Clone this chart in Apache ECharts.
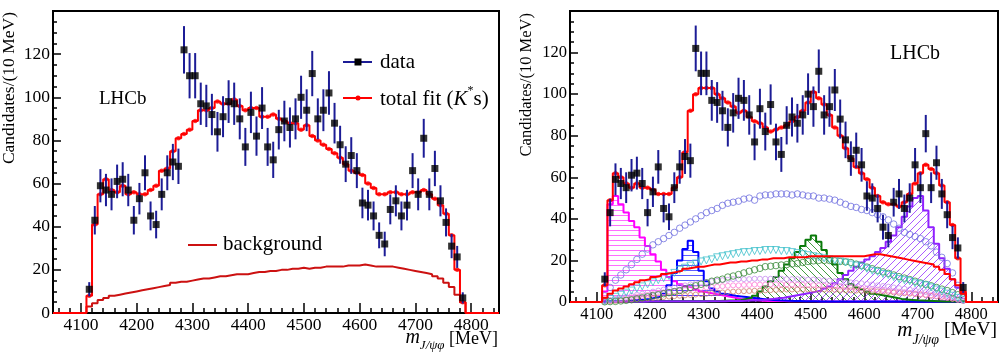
<!DOCTYPE html>
<html><head><meta charset="utf-8">
<script src="https://cdn.jsdelivr.net/npm/echarts@6/dist/echarts.min.js"></script>
<style>html,body{margin:0;padding:0;background:#fff}#c{width:1000px;height:361px}</style>
</head><body><div id="c"></div>
<script>
// ---------- data ----------
const binCenters = [4115,4125,4135,4145,4155,4165,4175,4185,4195,4205,4215,4225,4235,4245,4255,4265,4275,4285,4295,4305,4315,4325,4335,4345,4355,4365,4375,4385,4395,4405,4415,4425,4435,4445,4455,4465,4475,4485,4495,4505,4515,4525,4535,4545,4555,4565,4575,4585,4595,4605,4615,4625,4635,4645,4655,4665,4675,4685,4695,4705,4715,4725,4735,4745,4755,4765,4775,4785];
const binWidth = 10;
const xMajorTicks = [4100,4200,4300,4400,4500,4600,4700,4800];
const dataVals = [11,43,59,57,55,61,62,57,43,53, 65,45,41,55,65,70,68,122,110,110, 97,96,92,84,91,98,97,90,77,93, 82,95,77,71,85,89,86,90,100,94, 111,90,94,102,88,78,69,73,66,51, 50,45,36,32,48,52,45,50,66,55, 81,55,67,52,42,31,26,7];
const dataErr = [3.3,6.6,7.7,7.5,7.4,7.8,7.9,7.5,6.6,7.3, 8.1,6.7,6.4,7.4,8.1,8.4,8.2,11,10.5,10.5, 9.8,9.8,9.6,9.2,9.5,9.9,9.8,9.5,8.8,9.6, 9.1,9.7,8.8,8.4,9.2,9.4,9.3,9.5,10,9.7, 10.5,9.5,9.7,10.1,9.4,8.8,8.3,8.5,8.1,7.1, 7.1,6.7,6,5.7,6.9,7.2,6.7,7.1,8.1,7.4, 9,7.4,8.2,7.2,6.5,5.6,5.1,2.6];
// left panel
const fitLeft = [8,41,55,62,57,56,59,55,56,55, 55,57,59,66,67,75,81,83,85,89, 94,94,95,98,97,97,99,96,94,95, 95,91,91,92,90,89,88,88,85,87, 82,80,78,76,74,72,69,66,65,64, 60,58,55,55,56,56,55,55,56,56, 57,55,53,50,46,36,20,5];
const bgLeft = [3,4.5,6,7,8,8.5,9,9.5,10,10.5, 11,11.5,12,12.5,13,14,14.5,14.5,15,15.5, 16,16,16.5,17,17,17.5,18,18,18,18.5, 19,19,19.5,19.5,20,20,20.5,20.5,21,20.5, 21,21,21.5,21.5,21.5,21.5,22,22,22,22.5, 22,21.5,21.5,21.5,21.5,21,20.5,20,19.5,19, 18.5,18,17,16,14,12,8.5,5];
// right panel
const fitRight = [8,49,62,60,57,55,57,55,55,54, 52,52,52,55,60,72,92,100,103,103, 103,100,98,96,94,91,92,89,87,86, 84,82,83,84,85,87,89,92,96,101, 98,95,90,84,80,74,69,65,62,59, 55,51,48,47,47,46,48,52,57,62, 66,64,62,56,48,37,21,5];
const redRight = [2,4,5.5,6.5,7.5,8.5,9.5,10.5,11,12, 12.5,13.5,14,14.5,15,16,16.5,17,17,17.5, 18,18,18.5,19,19,19.5,19.5,20,20,20.5, 20.5,21,21,21,21.5,21.5,21.5,21.5,22,22, 22,22,22,22,22,22,22,22,22,22.5, 23,23,22.5,22,21.5,21,20.5,20,19.5,19, 18.5,18,17,15.5,13.5,11,8,4];
const magentaHist = [5,47,51,47,43,39,36,31,27,23, 19.5,15.5,12,10,8.5,7.5,7,6,5,4.5, 4,3.5,3,2.5,2,1.5,1.2,1,0.8,0.6, 0.5,0.5,0.5,0.5,0.4,0.4,0.4,0.4,0.4,0.4, 0.3,0.3,0.3,0.3,0.3,0.3,0.3,0.3,0.3,0.3, 0.3,0.3,0.3,0.3,0.3,0.3,0.3,0.3,0.3,0.3, 0.2,0.2,0.2,0.2,0.2,0.2,0.1,0.1];
const blueHist = [0.2,0.3,0.4,0.5,0.6,0.8,1,1.2,1.5,2, 2.5,4,8,14,20,25.5,29.5,24,15,10, 6.5,5,4,3.5,3,2.7,2.4,2.1,1.8,1.5, 1.2,1,0.8,0.7,0.6,0.5,0.5,0.4,0.4,0.4, 0.3,0.3,0.3,0.3,0.3,0.3,0.2,0.2,0.2,0.2, 0.2,0.2,0.2,0.2,0.2,0.2,0.2,0.2,0.1,0.1, 0.1,0.1,0.1,0.1,0.1,0.1,0.1,0.1];
const greenHist = [0.1,0.1,0.1,0.1,0.1,0.1,0.1,0.2,0.2,0.2, 0.2,0.2,0.2,0.3,0.3,0.3,0.3,0.3,0.3,0.4, 0.4,0.5,0.6,0.7,0.8,1,1.5,2,3,5, 7.5,10,12,15,18,21,24,27,30,32, 29,25,21.5,18,14,11,8.5,7,6,5, 4,3.5,3,2.5,2,1.5,1.2,1,0.8,0.7, 0.6,0.5,0.4,0.3,0.3,0.2,0.2,0.1];
const purpleHist = [0.1,0.1,0.1,0.1,0.1,0.1,0.1,0.1,0.2,0.2, 0.2,0.2,0.2,0.2,0.3,0.3,0.3,0.3,0.3,0.4, 0.4,0.4,0.4,0.5,0.5,0.5,0.6,0.7,0.8,1, 1.2,1.5,1.8,2,2.5,3,3.5,4,4.5,5, 5.5,6.5,7.5,9,11,13,15,17,19,20.5, 22,24,26,29,32,36,41,46,50,51, 44,36,28,21,16,11,7,4];
const lavenderCircles = [3,7,10.5,13,15.5,18,20.5,23,25.5,27.5, 29,30.5,32,33.5,35.5,37,38.5,40,41.5,43, 44,45,46.5,47.5,48,48.5,49.5,50,49,51, 51.5,51.5,52,52,52,51.5,52,51.5,51,51, 50,50,49.5,49,48,47,46,45.5,44.5,44, 43,42,41,39.5,37.5,35.5,33.5,32.5,31.5,30.5, 29,27,24,21.5,18.5,14,8,3];
const cyanTriangles = [0.5,1.5,2.5,3.5,4.5,5.5,6.5,7.5,8.5,9.5, 10.5,11.5,12.5,14,15.5,16.5,17.5,18.5,19.5,20, 20.5,21.5,22,22.5,23,23.5,24,24,24.5,24.5, 25,25,25,24.5,24.5,24,23.5,23,22.5,22, 21.5,21,20.5,20,19.5,19,18,17.5,17,16, 15,14.5,13.5,13,12,11,10.5,10,9,8.5, 8,7,6,5,4,3,2,1];
const greenCircles = [0.1,0.2,0.3,0.5,0.8,1.1,1.5,2,2.5,3, 3.5,4,4.5,5,5.5,6.2,7,7.8,8.5,9.2, 10,10.5,11,12,12.5,13.2,14,14.8,15.5,16.2, 17,17.2,17.5,17.8,18,18.3,18.5,19,19.5,19.8, 20,20,20,19.8,19.5,19.3,19,18.2,17.5,16.8, 16,15.2,14.5,13.8,13,12.2,11.5,10.8,10,9.2, 8.5,7.8,7,6.2,5.5,4.5,3.5,2];
const violetCircles = [0.5,1,1.5,2,2.5,3,3.5,4,4.5,5, 5.5,6,6.5,7,7.5,8,8.5,9,9.3,9.6, 10,10.2,10.5,10.7,11,11,11,11,11.2,11.2, 11.2,11.2,11.2,11.2,11,11,11,11,10.8,10.8, 10.6,10.4,10.2,10,9.8,9.6,9.4,9.2,9,8.7, 8.4,8,7.7,7.4,7,6.7,6.4,6,5.6,5.2, 4.8,4.4,4,3.5,3,2.4,1.6,0.8];
const pinkCircles = [0.3,0.6,1,1.4,1.8,2.2,2.6,3,3.4,3.8, 4.2,4.6,5,5.3,5.6,5.9,6.2,6.5,6.8,7, 7.2,7.4,7.6,7.8,8,8,8.2,8.2,8.4,8.4, 8.4,8.5,8.5,8.5,8.5,8.4,8.4,8.3,8.2,8.1, 8,7.9,7.8,7.6,7.4,7.2,7,6.8,6.6,6.4, 6.2,6,5.8,5.5,5.2,5,4.7,4.4,4.1,3.8, 3.5,3.2,2.9,2.5,2.1,1.6,1.1,0.5];
const brownCircles = [0.2,0.4,0.6,0.8,1,1.2,1.4,1.6,1.8,2, 2.2,2.4,2.6,2.8,3,3.2,3.4,3.6,3.8,4, 4.2,4.4,4.6,4.8,5,5.1,5.2,5.3,5.4,5.5, 5.6,5.7,5.8,5.9,6,6,6,6,6,6, 6,6,6,5.9,5.8,5.7,5.6,5.5,5.4,5.3, 5.2,5.1,5,4.8,4.6,4.4,4.2,4,3.8,3.6, 3.3,3,2.7,2.4,2,1.6,1.1,0.5];

// ---------- helpers ----------
const FF = 'Liberation Serif';
const xMin = 4050, xMax = 4850;
const xMinorTicks = [];
for (let v = xMin + 10; v < xMax; v += 20) { if (v % 100 !== 0) xMinorTicks.push(v); }

function pairs(ys) { return binCenters.map((x, i) => [x, ys[i]]); }
function steps(vals, ext) {
  const pts = [];
  const h = binWidth / 2;
  if (ext) pts.push([xMin, 0]);
  pts.push([binCenters[0] - h, 0]);
  binCenters.forEach((c, i) => { pts.push([c - h, vals[i]]); pts.push([c + h, vals[i]]); });
  pts.push([binCenters[binCenters.length - 1] + h, 0]);
  if (ext) pts.push([xMax, 0]);
  return pts;
}
function hatch(color, kind, size) {
  const c = document.createElement('canvas');
  c.width = size; c.height = size;
  const g = c.getContext('2d');
  g.strokeStyle = color; g.lineWidth = 1;
  g.beginPath();
  if (kind === 'h') { g.moveTo(0, 0.5); g.lineTo(size, 0.5); }
  else if (kind === '/') { g.moveTo(0, size); g.lineTo(size, 0); g.moveTo(-1, 1); g.lineTo(1, -1); g.moveTo(size - 1, size + 1); g.lineTo(size + 1, size - 1); }
  else { g.moveTo(0, 0); g.lineTo(size, size); g.moveTo(-1, size - 1); g.lineTo(1, size + 1); g.moveTo(size - 1, -1); g.lineTo(size + 1, 1); }
  g.stroke();
  return { image: c, repeat: 'repeat' };
}
const mctx = document.createElement('canvas').getContext('2d');
function tw(size, style, t) { mctx.font = (style || 'normal') + ' ' + size + 'px "' + FF + '"'; return mctx.measureText(t).width; }
function textRun(parts, x, y, alignRight) {
  const total = parts.reduce((s, p) => s + tw(p.size, p.style, p.t), 0);
  let cx = alignRight ? x - total : x;
  return parts.map(p => {
    const el = { type: 'text', x: cx, y: y + (p.dy || 0), z: 100,
      style: { text: p.t, fontSize: p.size, fontFamily: FF, fontStyle: p.style || 'normal', fill: '#000',
        align: 'left', textAlign: 'left', verticalAlign: 'middle', textVerticalAlign: 'middle' } };
    cx += tw(p.size, p.style, p.t);
    return el;
  });
}

function histSeries(vals, color, hcolor, kind, size) {
  return { type: 'line', xAxisIndex: 2, yAxisIndex: 1, data: steps(vals, false), symbol: 'none', showSymbol: false,
    lineStyle: { color: color, width: 2 }, areaStyle: { color: hatch(hcolor, kind, size), opacity: 1 }, z: 2, silent: true };
}
function markerSeries(vals, color, symbol, size, rot) {
  return { type: 'scatter', xAxisIndex: 2, yAxisIndex: 1, data: pairs(vals), symbol: symbol, symbolSize: size, symbolRotate: rot || 0,
    itemStyle: { color: 'rgba(0,0,0,0)', borderColor: color, borderWidth: 1 }, z: 3, silent: true };
}
function lineSeries(xi, yi, vals, color, ext, z) {
  return { type: 'line', xAxisIndex: xi, yAxisIndex: yi, data: steps(vals, ext), symbol: 'none', showSymbol: false,
    lineStyle: { color: color, width: 2 }, z: z, silent: true };
}
function dotSeries(xi, yi, vals, color, z) {
  return { type: 'scatter', xAxisIndex: xi, yAxisIndex: yi, data: pairs(vals), symbol: 'circle', symbolSize: 4.5,
    itemStyle: { color: color }, z: z, silent: true };
}
function errSeries(xi, yi) {
  return { type: 'custom', xAxisIndex: xi, yAxisIndex: yi, z: 7, silent: true,
    data: binCenters.map((c, i) => [c, dataVals[i], dataErr[i]]),
    encode: { x: 0, y: 1 },
    renderItem: function (p, api) {
      const x = api.value(0), y = api.value(1), e = api.value(2);
      const a = api.coord([x, y - e]), b = api.coord([x, y + e]);
      return { type: 'line', shape: { x1: a[0], y1: a[1], x2: b[0], y2: b[1] }, style: { stroke: '#1c1c96', lineWidth: 2 } };
    } };
}
function dataSeries(xi, yi) {
  return { type: 'scatter', xAxisIndex: xi, yAxisIndex: yi, data: pairs(dataVals), symbol: 'rect', symbolSize: 7,
    itemStyle: { color: '#000' }, z: 8, silent: true };
}
function xAxes(grid, fs, margin) {
  const base = { gridIndex: grid, type: 'value', position: 'bottom', min: xMin, max: xMax,
    axisLine: { show: false }, splitLine: { show: false } };
  return [
    Object.assign({}, base, { axisTick: { show: true, inside: true, length: 10, customValues: xMajorTicks, lineStyle: { color: '#000', width: 1.5 } },
      axisLabel: { show: true, customValues: xMajorTicks, formatter: v => String(v), fontFamily: FF, fontSize: fs, color: '#000', margin: margin } }),
    Object.assign({}, base, { axisTick: { show: true, inside: true, length: 5, customValues: xMinorTicks, lineStyle: { color: '#000', width: 1.5 } },
      axisLabel: { show: false } })
  ];
}
function yAxis(grid, fs) {
  return { gridIndex: grid, type: 'value', min: 0, max: 140, interval: 20,
    axisLine: { show: false }, splitLine: { show: false },
    axisTick: { show: true, inside: true, length: 8, lineStyle: { color: '#000', width: 1.5 } },
    minorTick: { show: true, splitNumber: 4, length: 4, lineStyle: { color: '#000', width: 1.5 } },
    axisLabel: { showMaxLabel: false, formatter: v => String(v), fontFamily: FF, fontSize: fs, color: '#000', margin: 3 } };
}
function rotText(txt, x, y, size) {
  return { type: 'text', x: x, y: y, rotation: Math.PI / 2, z: 100,
    style: { text: txt, fontSize: size, fontFamily: FF, fill: '#000', align: 'right', textAlign: 'right', verticalAlign: 'middle', textVerticalAlign: 'middle' } };
}

// ---------- graphics (texts, legend) ----------
const graphics = [];
graphics.push(rotText('Candidates/(10 MeV)', 9, 12, 17.5));
graphics.push(rotText('Candidates/(10 MeV)', 527, 13, 16.5));
graphics.push(...textRun([{ t: 'LHCb', size: 19 }], 99, 99, false));
graphics.push(...textRun([{ t: 'LHCb', size: 20 }], 890, 54, false));
// legend (left panel)
graphics.push({ type: 'line', z: 100, shape: { x1: 343, y1: 62, x2: 372, y2: 62 }, style: { stroke: '#1c1c96', lineWidth: 2 } });
graphics.push({ type: 'rect', z: 101, shape: { x: 354.5, y: 58.5, width: 7, height: 7 }, style: { fill: '#000' } });
graphics.push(...textRun([{ t: 'data', size: 21 }], 380, 62, false));
graphics.push({ type: 'line', z: 100, shape: { x1: 343, y1: 98, x2: 372, y2: 98 }, style: { stroke: '#ff0000', lineWidth: 2 } });
graphics.push({ type: 'circle', z: 101, shape: { cx: 358, cy: 98, r: 2.5 }, style: { fill: '#ff0000' } });
graphics.push(...textRun([
  { t: 'total fit (', size: 21 },
  { t: 'K', size: 21, style: 'italic' },
  { t: '*', size: 12, dy: -8 },
  { t: 's)', size: 21 }], 380, 99, false));
graphics.push({ type: 'line', z: 100, shape: { x1: 188, y1: 245, x2: 217, y2: 245 }, style: { stroke: '#cc1111', lineWidth: 2 } });
graphics.push(...textRun([{ t: 'background', size: 21 }], 223, 244, false));
// x titles
graphics.push(...textRun([
  { t: 'm', size: 20, style: 'italic', dy: -1 },
  { t: 'J/ψφ', size: 13, style: 'italic', dy: 7 },
  { t: ' [MeV]', size: 18 }], 498, 339, true));
graphics.push(...textRun([
  { t: 'm', size: 21, style: 'italic' },
  { t: 'J/ψφ', size: 14, style: 'italic', dy: 10 },
  { t: ' [MeV]', size: 19.5 }], 997, 330, true));

// ---------- chart ----------
const chart = echarts.init(document.getElementById('c'), null, { renderer: 'canvas' });
chart.setOption({
  animation: false,
  backgroundColor: '#fff',
  grid: [
    { left: 53, top: 11, width: 446, height: 302, show: true, borderColor: '#000', borderWidth: 2, backgroundColor: 'rgba(0,0,0,0)' },
    { left: 570, top: 11, width: 428, height: 291, show: true, borderColor: '#000', borderWidth: 2, backgroundColor: 'rgba(0,0,0,0)' }
  ],
  xAxis: [].concat(xAxes(0, 17.5, 3), xAxes(1, 16.5, 4)),
  yAxis: [yAxis(0, 17.5), yAxis(1, 16.5)],
  graphic: graphics,
  series: [
    // left panel
    lineSeries(0, 0, bgLeft, '#cc1111', false, 3),
    lineSeries(0, 0, fitLeft, '#ff0000', true, 4),
    dotSeries(0, 0, fitLeft, '#ff0000', 5),
    errSeries(0, 0),
    dataSeries(0, 0),
    // right panel components
    histSeries(magentaHist, '#ff00ff', 'rgba(255,60,255,0.75)', 'h', 5),
    histSeries(blueHist, '#0000ff', 'rgba(40,40,255,0.75)', 'h', 5),
    histSeries(greenHist, '#0a7a0a', 'rgba(20,130,20,0.8)', '\\', 7),
    histSeries(purpleHist, '#9020ff', 'rgba(150,50,255,0.8)', '/', 7),
    markerSeries(brownCircles, '#d08070', 'circle', 5),
    markerSeries(pinkCircles, '#ff80d8', 'circle', 5),
    markerSeries(violetCircles, '#c890f0', 'circle', 5),
    markerSeries(greenCircles, '#3a8a3a', 'circle', 6.5),
    markerSeries(cyanTriangles, '#40c0cc', 'triangle', 7, 180),
    markerSeries(lavenderCircles, '#7070e0', 'circle', 6.5),
    lineSeries(2, 1, redRight, '#ff0000', false, 4),
    lineSeries(2, 1, fitRight, '#ff0000', true, 5),
    dotSeries(2, 1, fitRight, '#ff0000', 5),
    errSeries(2, 1),
    dataSeries(2, 1)
  ]
});
</script>
</body></html>
